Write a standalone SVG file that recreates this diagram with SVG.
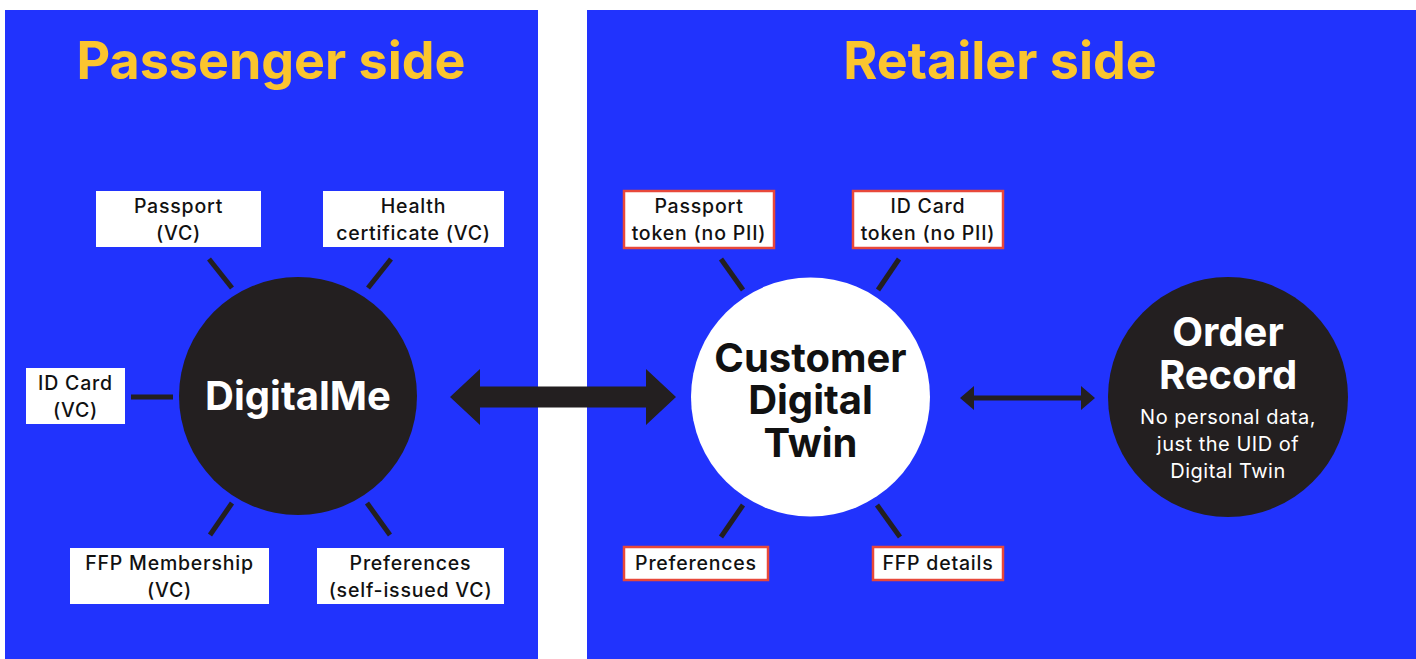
<svg xmlns="http://www.w3.org/2000/svg" width="1416" height="659" viewBox="0 0 1416 659">
<style>
.panel{fill:#2133FD}
.title{font-family:Inter,"Liberation Sans",sans-serif;font-weight:700;font-size:52px;fill:#FBC52E;text-anchor:middle}
.box{fill:#FFFFFF}
.rbox{fill:#FFFFFF;stroke:#E8483A;stroke-width:2.5}
.lbl{font-family:Inter,"Liberation Sans",sans-serif;font-weight:500;font-size:19.5px;letter-spacing:0.8px;fill:#111111;text-anchor:middle}
.spoke{stroke:#231F20;stroke-width:5}
.dark{fill:#231F20}
.big{font-family:Inter,"Liberation Sans",sans-serif;font-weight:700;font-size:40px;text-anchor:middle}
.sub{font-family:Inter,"Liberation Sans",sans-serif;font-weight:400;font-size:20px;letter-spacing:0.5px;fill:#FFFFFF;text-anchor:middle}
</style>
<rect width="1416" height="659" fill="#FFFFFF"/>
<rect class="panel" x="5" y="10" width="533" height="649"/>
<rect class="panel" x="587" y="10" width="829" height="649"/>
<text class="title" x="271" y="79">Passenger side</text>
<text class="title" x="1000" y="79">Retailer side</text>

<g id="connectors">
<line class="spoke" x1="209" y1="259" x2="232" y2="288"/>
<line class="spoke" x1="391" y1="259" x2="368" y2="288"/>
<line class="spoke" x1="131" y1="397" x2="173" y2="397"/>
<line class="spoke" x1="232" y1="503" x2="210" y2="535"/>
<line class="spoke" x1="367" y1="503" x2="390" y2="535"/>
<line class="spoke" x1="721" y1="259" x2="743" y2="290"/>
<line class="spoke" x1="899" y1="259" x2="878" y2="290"/>
<line class="spoke" x1="743" y1="505" x2="721" y2="537"/>
<line class="spoke" x1="877" y1="505" x2="900" y2="537"/>
<polygon class="dark" points="450,397 480,369 480,386.5 646,386.5 646,369 676,397 646,425 646,407.5 480,407.5 480,425"/>
<polygon class="dark" points="960,398 974,386 974,395.5 1081,395.5 1081,386 1095,398 1081,410 1081,400.5 974,400.5 974,410"/>
</g>

<g id="digitalme">
<circle class="dark" cx="298" cy="396" r="119"/>
<text class="big" x="298" y="410" fill="#FFFFFF">DigitalMe</text>
</g>
<g id="passport-vc">
<rect class="box" x="96" y="191" width="165" height="56"/>
<text class="lbl" x="178.5" y="213">Passport</text>
<text class="lbl" x="178.5" y="240">(VC)</text>
</g>
<g id="health-vc">
<rect class="box" x="323" y="191" width="181" height="56"/>
<text class="lbl" x="413.5" y="213">Health</text>
<text class="lbl" x="413.5" y="240">certificate (VC)</text>
</g>
<g id="idcard-vc">
<rect class="box" x="26" y="368" width="99" height="56"/>
<text class="lbl" x="75.5" y="390">ID Card</text>
<text class="lbl" x="75.5" y="417">(VC)</text>
</g>
<g id="ffp-vc">
<rect class="box" x="70" y="548" width="199" height="56"/>
<text class="lbl" x="169.5" y="570">FFP Membership</text>
<text class="lbl" x="169.5" y="597">(VC)</text>
</g>
<g id="prefs-vc">
<rect class="box" x="317" y="548" width="187" height="56"/>
<text class="lbl" x="410.5" y="570">Preferences</text>
<text class="lbl" x="410.5" y="597">(self-issued VC)</text>
</g>

<g id="digital-twin">
<circle cx="810.5" cy="397" r="119.5" fill="#FFFFFF"/>
<text class="big" x="810.5" y="372" fill="#111111">Customer</text>
<text class="big" x="810.5" y="414" fill="#111111">Digital</text>
<text class="big" x="810.5" y="457" fill="#111111">Twin</text>
</g>
<g id="passport-token">
<rect class="rbox" x="624" y="191" width="150" height="57"/>
<text class="lbl" x="699" y="213">Passport</text>
<text class="lbl" x="699" y="240">token (no PII)</text>
</g>
<g id="idcard-token">
<rect class="rbox" x="853" y="191" width="150" height="57"/>
<text class="lbl" x="928" y="213">ID Card</text>
<text class="lbl" x="928" y="240">token (no PII)</text>
</g>
<g id="prefs">
<rect class="rbox" x="624" y="547" width="144" height="33"/>
<text class="lbl" x="696" y="570">Preferences</text>
</g>
<g id="ffp-details">
<rect class="rbox" x="873" y="547" width="130" height="33"/>
<text class="lbl" x="938" y="570">FFP details</text>
</g>

<g id="order-record">
<circle class="dark" cx="1228" cy="397" r="120"/>
<text class="big" x="1228" y="346" fill="#FFFFFF">Order</text>
<text class="big" x="1228" y="389" fill="#FFFFFF">Record</text>
<text class="sub" x="1228" y="424">No personal data,</text>
<text class="sub" x="1228" y="451">just the UID of</text>
<text class="sub" x="1228" y="478">Digital Twin</text>
</g>
</svg>
